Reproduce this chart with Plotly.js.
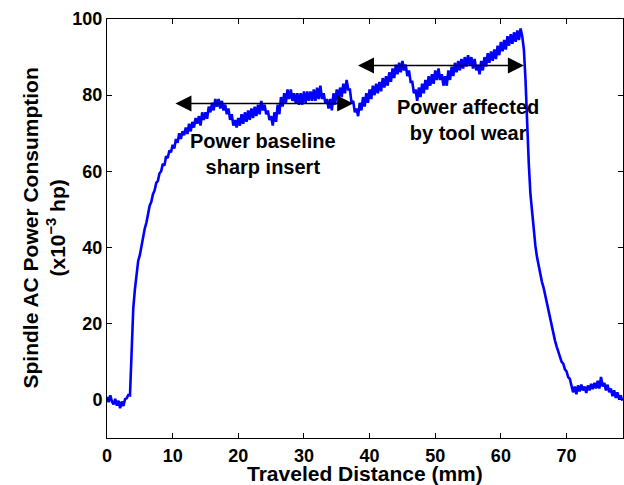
<!DOCTYPE html>
<html>
<head>
<meta charset="utf-8">
<script src="https://cdn.plot.ly/plotly-3.0.1.min.js"></script>
<style>html,body{margin:0;padding:0;background:#fff;}#chart{width:624px;height:485px;}</style>
</head>
<body>
<div id="chart"></div>
<script>
// Spindle AC power (x10^-3 hp), sampled every 0.25 mm of traveled distance starting at 0 mm
const startDistance = 0;
const sampleStep = 0.25;
const powerValues = [
  0.8, -0.6, 1.2, -0.4,
  -1.2, 0.3, -1.5, -0.2,
  -2.2, -0.4, -1.6, 0.2,
  0.4, 1.3, 1.2, 14,
  24, 29, 33, 36.5,
  38, 40.5, 43, 45,
  46.5, 49, 51, 52,
  54, 55, 57, 57.5,
  59.5, 60, 62, 61.5,
  64, 63.5, 65.5, 65,
  67, 66, 68.5, 67.5,
  70, 68.5, 70.5, 69.5,
  71.5, 69.8, 72.5, 70.5,
  73, 71.5, 74, 72.5,
  74.5, 72, 75.5, 73.5,
  75.5, 73.8, 77, 75.5,
  78, 76, 79, 77,
  79, 76.5, 78.5, 76,
  77.5, 75, 76.5, 73.5,
  75, 72, 73.5, 71.5,
  74, 72, 75, 72.5,
  75.5, 73, 76, 73.5,
  76.5, 74, 77, 74.5,
  77.5, 75, 78.5, 76,
  77.5, 75, 76, 73.5,
  74.5, 72, 75.5, 73,
  77.5, 75, 79.5, 77,
  80.5, 78, 81.5, 79,
  81.5, 78.5, 80.5, 78,
  80.5, 77.5, 80.5, 77.5,
  81, 78, 81, 78.5,
  81, 78.5, 81.5, 78.5,
  82, 79, 82.5, 79,
  80.5, 78, 79, 76.5,
  79, 76, 80.5, 77.5,
  81.5, 79, 82, 79.5,
  83, 80.5, 84, 81.5,
  81.5, 78, 78.5, 75.5,
  76.5, 74.5, 78, 76,
  79.5, 77, 80.5, 78,
  81.5, 79, 82.5, 80,
  83, 80.5, 83.5, 81,
  84.5, 82, 85, 82.5,
  86, 83.5, 87, 84.5,
  88, 85.5, 88.5, 86,
  89, 86.5, 88, 85,
  86.5, 83.5, 83.5, 80.5,
  81.5, 78.5, 82, 79.5,
  83, 80.5, 84, 81.5,
  85, 82.5, 85.5, 83,
  86.5, 84, 87, 84,
  85.5, 82.5, 85, 82.5,
  86.5, 84, 87.5, 85,
  88.5, 86, 89, 86.5,
  89.5, 87, 90, 87.5,
  90.5, 88, 90, 87,
  89.5, 86.5, 88, 85.5,
  89, 86.5, 90, 87.5,
  91, 88.5, 91.5, 89,
  92, 89.5, 93, 90.5,
  94, 91.5, 94.5, 92,
  95.5, 93, 96, 93.5,
  96.5, 94, 97, 94.5,
  97.5, 95.5, 92, 84,
  72, 62, 54, 49,
  44, 40.5, 37.5, 35,
  33.5, 31, 29.5, 27.5,
  25.5, 23.5, 21, 19,
  17, 15.5, 14, 12.5,
  11.5, 10, 9.5, 8,
  7.5, 6, 5.5, 4,
  2, 3.5, 1.5, 3.8,
  2.2, 4, 2.5, 3.5,
  1.8, 3.8, 2.5, 4.2,
  2.8, 4.5, 3, 5,
  3, 6, 3.5, 4.5,
  2.5, 4, 2, 3,
  1, 2.5, 0.5, 2,
  0.2, 1.2, -0.2
];

const xTickVals = [0, 10, 20, 30, 40, 50, 60, 70];
const yTickVals = [0, 20, 40, 60, 80, 100];

// annotation arrows (data units)
const baselineArrow = {x0: 10.2, x1: 37.5, y: 77.8};
const wearArrow = {x0: 38.0, x1: 63.5, y: 87.8};
const baselineLabel = {x: 23.8, y: 64.5, text: 'Power baseline<br>sharp insert'};
const wearLabel = {x: 55.0, y: 73.6, text: 'Power affected<br>by tool wear'};

const FONT = 'Liberation Sans, Arial, Helvetica, sans-serif';

const trace = {
  type: 'scatter',
  mode: 'lines',
  x0: startDistance,
  dx: sampleStep,
  y: powerValues,
  line: {color: '#0000ff', width: 2.6},
  hoverinfo: 'skip'
};

function dblArrow(a) {
  return {
    x: a.x1, y: a.y, ax: a.x0, ay: a.y,
    xref: 'x', yref: 'y', axref: 'x', ayref: 'y',
    text: '', showarrow: true,
    arrowhead: 2, startarrowhead: 2, arrowside: 'end+start',
    arrowsize: 2, startarrowsize: 2, arrowwidth: 1.6, arrowcolor: '#000'
  };
}

const layout = {
  width: 624, height: 485,
  margin: {l: 107, r: 1, t: 19, b: 47},
  paper_bgcolor: '#fff', plot_bgcolor: '#fff',
  showlegend: false,
  font: {family: FONT, size: 18, color: '#000'},
  xaxis: {
    range: [0, 78.6],
    tickvals: xTickVals,
    ticks: 'inside', ticklen: 5, tickwidth: 1, tickcolor: '#000',
    showline: true, linecolor: '#000', linewidth: 1, mirror: 'ticks',
    showgrid: false, zeroline: false,
    tickfont: {family: FONT, size: 18, color: '#000', weight: 'bold'},
    ticklabelstandoff: 1
  },
  yaxis: {
    range: [-10, 100],
    tickvals: yTickVals,
    ticks: 'inside', ticklen: 5, tickwidth: 1, tickcolor: '#000',
    showline: true, linecolor: '#000', linewidth: 1, mirror: 'ticks',
    showgrid: false, zeroline: false,
    tickfont: {family: FONT, size: 18, color: '#000', weight: 'bold'}
  },
  annotations: [
    dblArrow(baselineArrow),
    dblArrow(wearArrow),
    {x: baselineLabel.x, y: baselineLabel.y, xref: 'x', yref: 'y', text: baselineLabel.text,
     showarrow: false, font: {family: FONT, size: 20, color: '#000', weight: 'bold'}, align: 'center'},
    {x: wearLabel.x, y: wearLabel.y, xref: 'x', yref: 'y', text: wearLabel.text,
     showarrow: false, font: {family: FONT, size: 20, color: '#000', weight: 'bold'}, align: 'center'},
    {x: 0.5, y: 0, xref: 'paper', yref: 'paper', yshift: -35, xanchor: 'center', yanchor: 'middle',
     text: 'Traveled Distance (mm)', showarrow: false,
     font: {family: FONT, size: 21, color: '#000', weight: 'bold'}},
    {x: 0, y: 0.5, xref: 'paper', yref: 'paper', xshift: -64, xanchor: 'center', yanchor: 'middle',
     textangle: -90, text: 'Spindle AC Power Consumption<br>(x10<sup>\u22123</sup> hp)', showarrow: false,
     font: {family: FONT, size: 21, color: '#000', weight: 'bold'}}
  ]
};

Plotly.newPlot('chart', [trace], layout, {displayModeBar: false, staticPlot: true});
</script>
</body>
</html>
